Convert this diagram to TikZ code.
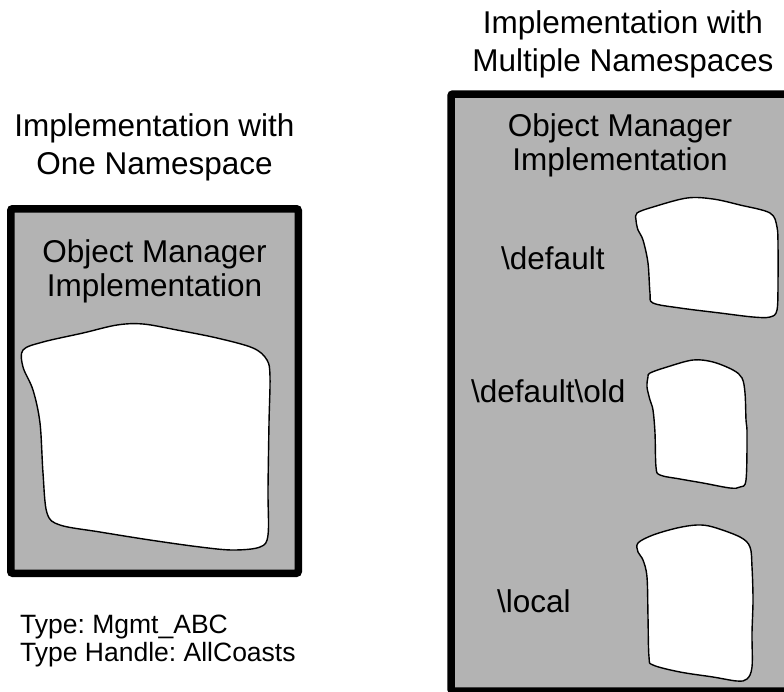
\documentclass[tikz,border=0pt]{standalone}
\usepackage{fontspec}
\setmainfont{Liberation Sans}
\definecolor{boxgray}{RGB}{179,179,179}
\begin{document}
\frenchspacing
\begin{tikzpicture}[x=1pt,y=-1pt,
  titletext/.style={font=\fontsize{31.5}{38}\selectfont, align=center, inner sep=0, anchor=north},
  labeltext/.style={font=\fontsize{31.5}{34.5}\selectfont, align=center, inner sep=0, anchor=north},
  nstext/.style={font=\fontsize{31.5}{38}\selectfont, inner sep=0, anchor=base west},
  infotext/.style={font=\fontsize{26.5}{28}\selectfont, align=left, inner sep=0, anchor=north west},
  frame/.style={fill=boxgray, draw=black, line width=7.5pt, rounded corners=2pt},
  blob/.style={fill=white, draw=black, line width=1.4pt, line join=round}]
\useasboundingbox (0,0) rectangle (784,691);
\clip (0,0) rectangle (784,691);
\fill[white] (0,0) rectangle (784,691);

% left: one namespace
\node[titletext] (titleL) at (154.5,113) {Implementation with\\One Namespace};
\draw[frame] (10.75,208.75) rectangle (298.25,573.25);
\node[labeltext] (omL) at (154.5,239) {Object Manager\\Implementation};
\draw[blob] plot[smooth cycle, tension=0.55] coordinates {
  (23,350) (43,342) (83,333) (117,325) (143,324) (177,330) (217,338) (253,348)
  (267,360) (270,377) (269,423) (268,490) (268,535) (260,547) (233,550)
  (200,547) (150,540) (100,532) (60,525) (47,513) (43,473) (40,423) (33,390)
  (23,367)};
\node[infotext] (typeinfo) at (20,615) {Type: Mgmt\_ABC\\Type Handle: AllCoasts};

% right: multiple namespaces
\node[titletext] (titleR) at (623,10) {Implementation with\\Multiple Namespaces};
\draw[frame] (451,94) rectangle (789,691);
\node[labeltext] (omR) at (620,113) {Object Manager\\Implementation};

\node[nstext] (nsdefault) at (501,269) {\textbackslash default};
\node[nstext] (nsold) at (471,402) {\textbackslash default\textbackslash old};
\node[nstext] (nslocal) at (497,612) {\textbackslash local};

\draw[blob] plot[smooth cycle, tension=0.55] coordinates {
  (637,213) (653,207) (687,198) (713,199) (740,205) (770,213) (777,227)
  (778,247) (778,280) (777,310) (770,317) (753,317) (720,313) (680,308)
  (653,303) (650,293) (648,263) (643,240) (638,230) (636,220)};
\draw[blob] plot[smooth cycle, tension=0.55] coordinates {
  (650,373) (667,367) (693,360) (713,362) (733,370) (742,378) (745,393)
  (746,420) (747,433) (746,480) (740,487) (730,488) (703,483) (680,479)
  (660,475) (656,467) (655,433) (653,410) (650,400) (647,387) (648,377)};
\draw[blob] plot[smooth cycle, tension=0.55] coordinates {
  (638,543) (653,535) (677,528) (697,525) (713,527) (740,537) (750,547)
  (752,567) (753,600) (752,633) (752,667) (747,679) (737,681) (713,677)
  (680,672) (653,665) (649,657) (648,617) (647,577) (643,560) (638,552)};
\end{tikzpicture}
\end{document}
